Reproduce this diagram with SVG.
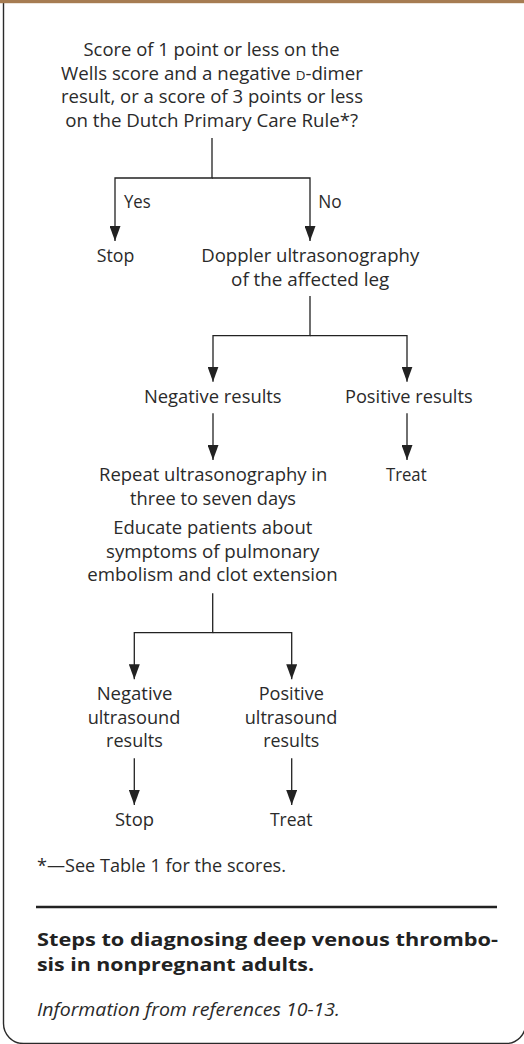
<svg xmlns="http://www.w3.org/2000/svg" width="524" height="1044" viewBox="0 0 524 1044">
<style>
text{font-family:"Open Sans","Noto Sans","Liberation Sans",sans-serif;fill:#2a2a2a;}
.t{font-size:17.4px;text-anchor:middle;}
.l{font-size:17.4px;}
.sc{font-size:12.5px;}
.fn{font-size:17.4px;}
.cap{font-size:18.3px;font-weight:700;fill:#222;}
.src{font-size:17.4px;font-style:italic;}
.con{fill:none;stroke:#222;stroke-width:1.3;marker-end:url(#ah);}
</style>
<defs>
<marker id="ah" markerUnits="userSpaceOnUse" viewBox="0 0 15 11" markerWidth="15" markerHeight="11" refX="15" refY="5.5" orient="auto">
<path d="M0,0 L15,5.5 L0,11 Z" fill="#222"/>
</marker>
</defs>
<g id="frame">
<path d="M3.5,3 V1023.5 A20,20 0 0 0 23.5,1043.5 H505.8 A20,20 0 0 0 525.8,1023.5 V3" fill="none" stroke="#2a2a2a" stroke-width="1.4"/>
<rect x="0" y="0" width="524" height="3.2" fill="#a67c52"/>
</g>
<g id="connectors">
<path class="con" d="M212,138 V178 H115 V241"/>
<path class="con" d="M212,178 H310 V241"/>
<path class="con" d="M310,296 V335.7 H213 V381.7"/>
<path class="con" d="M310,335.7 H407 V381.7"/>
<path class="con" d="M213,413.3 V460"/>
<path class="con" d="M407,413.3 V460"/>
<path class="con" d="M212.7,593.3 V632.7 H134.3 V679.3"/>
<path class="con" d="M212.7,632.7 H291.7 V679.3"/>
<path class="con" d="M134.3,758.3 V805"/>
<path class="con" d="M291.7,758.3 V805"/>
<text class="l" x="124" y="208" textLength="26.7" lengthAdjust="spacingAndGlyphs">Yes</text>
<text class="l" x="318.3" y="208" textLength="23.4" lengthAdjust="spacingAndGlyphs">No</text>
</g>
<g id="question">
<text class="t" x="211.5" y="56" textLength="256" lengthAdjust="spacingAndGlyphs">Score of 1 point or less on the</text>
<text class="t" x="212" y="79.7" textLength="302" lengthAdjust="spacingAndGlyphs">Wells score and a negative <tspan class="sc">D</tspan>-dimer</text>
<text class="t" x="212" y="103.3" textLength="302" lengthAdjust="spacingAndGlyphs">result, or a score of 3 points or less</text>
<text class="t" x="211.7" y="127" textLength="293" lengthAdjust="spacingAndGlyphs">on the Dutch Primary Care Rule*?</text>
</g>
<g id="stop1">
<text class="t" x="115.5" y="261.5" textLength="37.6" lengthAdjust="spacingAndGlyphs">Stop</text>
</g>
<g id="doppler">
<text class="t" x="310.2" y="261.7" textLength="218" lengthAdjust="spacingAndGlyphs">Doppler ultrasonography</text>
<text class="t" x="310.2" y="285.7" textLength="158.3" lengthAdjust="spacingAndGlyphs">of the affected leg</text>
</g>
<g id="negative">
<text class="t" x="212.8" y="402.7" textLength="137.7" lengthAdjust="spacingAndGlyphs">Negative results</text>
</g>
<g id="positive">
<text class="t" x="408.8" y="402.7" textLength="127.7" lengthAdjust="spacingAndGlyphs">Positive results</text>
</g>
<g id="repeat">
<text class="t" x="213.2" y="480.7" textLength="228.3" lengthAdjust="spacingAndGlyphs">Repeat ultrasonography in</text>
<text class="t" x="213" y="504.5" textLength="166" lengthAdjust="spacingAndGlyphs">three to seven days</text>
<text class="t" x="212.8" y="534" textLength="199" lengthAdjust="spacingAndGlyphs">Educate patients about</text>
<text class="t" x="212.7" y="557.7" textLength="213.3" lengthAdjust="spacingAndGlyphs">symptoms of pulmonary</text>
<text class="t" x="212.5" y="581.3" textLength="250.3" lengthAdjust="spacingAndGlyphs">embolism and clot extension</text>
</g>
<g id="treat1">
<text class="t" x="406.3" y="480.7" textLength="40.7" lengthAdjust="spacingAndGlyphs">Treat</text>
</g>
<g id="neg-us">
<text class="t" x="134.5" y="700" textLength="75.7" lengthAdjust="spacingAndGlyphs">Negative</text>
<text class="t" x="134" y="723.7" textLength="92.7" lengthAdjust="spacingAndGlyphs">ultrasound</text>
<text class="t" x="134.4" y="747.3" textLength="56.7" lengthAdjust="spacingAndGlyphs">results</text>
</g>
<g id="pos-us">
<text class="t" x="291.3" y="700" textLength="65.3" lengthAdjust="spacingAndGlyphs">Positive</text>
<text class="t" x="291" y="723.7" textLength="92.6" lengthAdjust="spacingAndGlyphs">ultrasound</text>
<text class="t" x="291.3" y="747.3" textLength="56" lengthAdjust="spacingAndGlyphs">results</text>
</g>
<g id="stop2">
<text class="t" x="134.5" y="826" textLength="39" lengthAdjust="spacingAndGlyphs">Stop</text>
</g>
<g id="treat2">
<text class="t" x="291.3" y="826" textLength="42.7" lengthAdjust="spacingAndGlyphs">Treat</text>
</g>
<g id="caption">
<text class="fn" x="37" y="872" textLength="249" lengthAdjust="spacingAndGlyphs">*—See Table 1 for the scores.</text>
<line x1="36" y1="907" x2="497" y2="907" stroke="#222" stroke-width="2.5"/>
<text class="cap" x="37" y="946" textLength="461" lengthAdjust="spacingAndGlyphs">Steps to diagnosing deep venous thrombo-</text>
<text class="cap" x="37" y="971" textLength="277" lengthAdjust="spacingAndGlyphs">sis in nonpregnant adults.</text>
<text class="src" x="37" y="1016" textLength="303" lengthAdjust="spacingAndGlyphs">Information from references 10-13.</text>
</g>
</svg>
